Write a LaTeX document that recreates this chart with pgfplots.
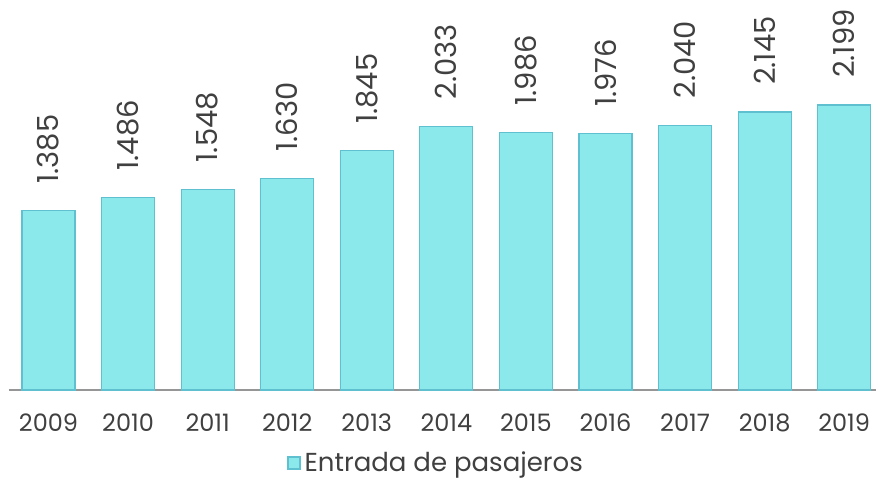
\documentclass[border=0pt]{standalone}
\usepackage{pgfplots}
\pgfplotsset{compat=1.18}
\usepackage{fontspec}
\setmainfont{Poppins}
\definecolor{barfill}{RGB}{139,232,235}
\definecolor{bardraw}{RGB}{95,192,208}
\definecolor{txt}{RGB}{64,64,64}
\definecolor{axgray}{RGB}{150,150,150}
\begin{document}
\begin{tikzpicture}
\begin{axis}[
  at={(0,0)}, anchor=south west,
  scale only axis, width=433.65pt, height=195pt,
  ybar, bar width=26.5pt,
  xmin=-0.5, xmax=10.4, ymin=0, ymax=3009,
  axis y line=none,
  axis x line*=bottom,
  x axis line style={draw=axgray, line width=0.8pt, -},
  xtick=data,
  xticklabels={2009,2010,2011,2012,2013,2014,2015,2016,2017,2018,2019},
  major tick length=0pt,
  xticklabel style={font=\fontsize{12}{14}\selectfont, text=txt, yshift=-8.5pt},
  clip=false,
  /pgf/number format/assume math mode=true,
  /pgf/number format/1000 sep={.},
  nodes near coords,
  nodes near coords style={},
  every node near coord/.style={rotate=90, anchor=west, xshift=13.5pt, font=\fontsize{14.5}{16}\selectfont, text=txt, inner sep=0pt, outer sep=0pt},
  legend style={at={(0.494,-0.187)}, anchor=center, draw=none, fill=none, font=\fontsize{13}{15}\selectfont, text=txt, inner sep=0pt},
  legend image code/.code={\draw[#1, line width=0.6pt] (0pt,-3pt) rectangle (6pt,3pt);},
  legend cell align=left,
]
\addplot[fill=barfill, draw=bardraw, line width=0.6pt] coordinates {
(0,1385) (1,1486) (2,1548) (3,1630) (4,1845) (5,2033) (6,1986) (7,1976) (8,2040) (9,2145) (10,2199)};
\addlegendentry{Entrada de pasajeros}
\end{axis}
\pgfresetboundingbox
\useasboundingbox (-4.35pt,-45.5pt) rectangle (433.65pt,195pt);
\end{tikzpicture}
\end{document}
